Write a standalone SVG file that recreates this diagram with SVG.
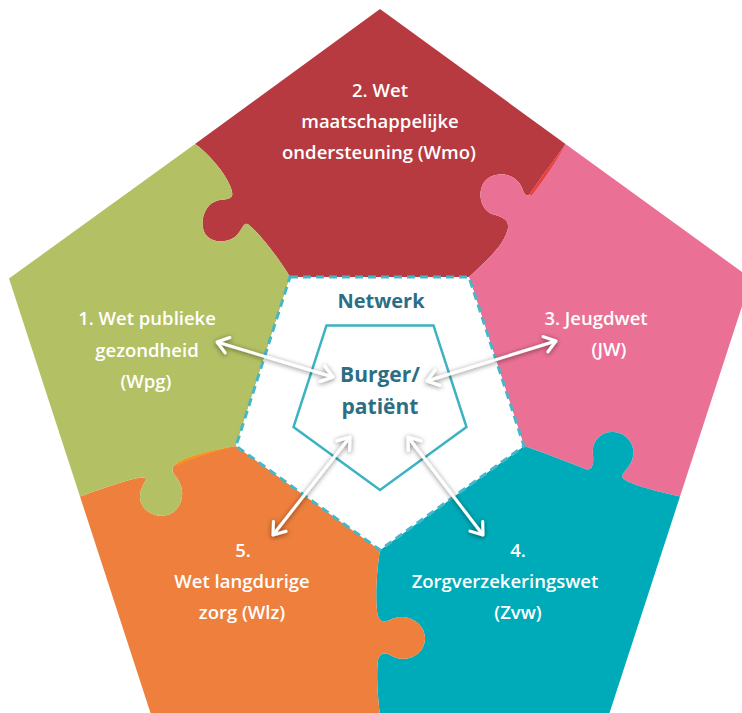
<svg xmlns="http://www.w3.org/2000/svg" width="742" height="713" viewBox="0 0 742 713">
<defs>
<style>
.lbl{font-family:"Open Sans","Noto Sans",sans-serif;font-size:18.5px;font-weight:600;fill:#ffffff;text-anchor:middle}
.ctr{font-family:"Open Sans","Noto Sans",sans-serif;font-weight:bold;fill:#2c6e84;text-anchor:middle}
.arr{stroke:#ffffff;stroke-width:3;fill:none;marker-start:url(#head);marker-end:url(#head);filter:url(#sh)}
</style>
<marker id="head" viewBox="-14 -10 16 20" markerWidth="16" markerHeight="20" refX="0" refY="0" orient="auto-start-reverse" markerUnits="userSpaceOnUse">
<path d="M-11,-8 L0,0 L-11,8" fill="none" stroke="#ffffff" stroke-width="3" stroke-linecap="round" stroke-linejoin="round"/>
</marker>
<filter id="sh" x="-30%" y="-30%" width="160%" height="160%">
<feDropShadow dx="0" dy="1" stdDeviation="2.5" flood-color="#000000" flood-opacity="0.55"/>
</filter>
</defs>
<rect width="742" height="713" fill="#ffffff"/>
<g id="pieces">
<g id="piece-red"><path fill="#b73a40" d="M290,277 C 280,260 262,236 249,225 C 244,221 243,228 238,234 C 232,242 214,245 206,235 C 199,226 203,207 214,202 C 222,198 229,201 232,196 C 235,187 215,158 195,144 L380,9 L565.5,144 C 555,160 540,178 530,194 C 527,198 524,194 522,188 C 518,178 505,170 490,177 C 476,185 478,208 492,214 C 502,217 509,219 508,228 C 505,245 485,262 469,277 Z"/></g>
<g id="piece-pink"><path fill="#eb7095" d="M469,277 C 485,262 505,245 508,228 C 509,219 502,217 492,214 C 478,208 476,185 490,177 C 505,170 518,178 522,188 C 524,194 527,198 530,194 C 540,178 555,160 565.5,144 L751,278.5 L680,496.5 C 650,490 621,482 622,476 C 624,471 630,466 632,460 C 637,447 628,433 614,432 C 602,431 591,440 593,455 C 594,465 592,471 585,469 C 570,463 545,453 524,446 Z"/></g>
<g id="piece-teal"><path fill="#00abb9" d="M524,446 C 545,453 570,463 585,469 C 592,471 594,465 593,455 C 591,440 602,431 614,432 C 628,433 637,447 632,460 C 630,466 624,471 622,476 C 621,482 650,490 680,496.5 L609,714.5 L380,714.5 C 378,700 376,675 378,660 C 381,650 388,654 394,657 C 408,663 425,654 425,638 C 425,624 408,612 392,619 C 386,622 380,623 378,616 C 375,605 376,575 380,550 Z"/></g>
<g id="piece-orange"><path fill="#ee7f3c" d="M380,550 C 376,575 375,605 378,616 C 380,623 386,622 392,619 C 408,612 425,624 425,638 C 425,654 408,663 394,657 C 388,654 381,650 378,660 C 376,675 378,700 380,714.5 L151,714.5 L80,496.5 C 120,482 146,474 146,479 C 145,483 140,488 140,497 C 140,510 156,520 170,514 C 183,508 186,490 177,478 C 172,472 170,468 177,463 C 190,455 215,450 236,446 Z"/></g>
<g id="piece-green"><path fill="#b3c164" d="M236,446 C 215,450 190,455 177,463 C 170,468 172,472 177,478 C 186,490 183,508 170,514 C 156,520 140,510 140,497 C 140,488 145,483 146,479 C 146,474 120,482 80,496.5 L9,278.5 L195,144 C 215,158 235,187 232,196 C 229,201 222,198 214,202 C 203,207 199,226 206,235 C 214,245 232,242 238,234 C 243,228 244,221 249,225 C 262,236 280,260 290,277 Z"/></g>
<path fill="#f7931e" d="M177,463 C 190,455 215,450 236,446 C 215,452 192,458 177,466 Z"/>
<path fill="#e8413a" d="M530,194 C 540,178 555,160 565.5,144 C 556,162 542,182 531,196 Z"/>
</g>
<g id="network">
<polygon points="290,277 469,277 524,446 380,550 236,446" fill="#ffffff" stroke="#45b7c7" stroke-width="3" stroke-dasharray="8 5"/>
<text class="ctr" x="381" y="308" font-size="20">Netwerk</text>
</g>
<g id="patient">
<polygon points="326.5,325.4 433.5,325.4 466.5,427.1 380,490 293.5,427.1" fill="none" stroke="#3bb3c2" stroke-width="2.5"/>
<text class="ctr" x="380" y="382" font-size="21">Burger/</text>
<text class="ctr" x="380" y="414" font-size="21">patiënt</text>
</g>
<g id="labels">
<g id="label-1"><text class="lbl" x="147" y="325">1. Wet publieke</text><text class="lbl" x="147" y="357">gezondheid</text><text class="lbl" x="146" y="388">(Wpg)</text></g>
<g id="label-2"><text class="lbl" x="380" y="97">2. Wet</text><text class="lbl" x="380" y="128">maatschappelijke</text><text class="lbl" x="379" y="159">ondersteuning (Wmo)</text></g>
<g id="label-3"><text class="lbl" x="596" y="325">3. Jeugdwet</text><text class="lbl" x="609" y="356">(JW)</text></g>
<g id="label-4"><text class="lbl" x="518" y="557">4.</text><text class="lbl" x="505" y="588">Zorgverzekeringswet</text><text class="lbl" x="518" y="619">(Zvw)</text></g>
<g id="label-5"><text class="lbl" x="243" y="557">5.</text><text class="lbl" x="242" y="588">Wet langdurige</text><text class="lbl" x="242" y="619">zorg (Wlz)</text></g>
</g>
<g id="connectors">
<line class="arr" x1="378" y1="207" x2="378" y2="345"/>
<line class="arr" x1="217" y1="342" x2="333" y2="377"/>
<line class="arr" x1="556" y1="341" x2="427" y2="381"/>
<line class="arr" x1="350" y1="437" x2="273" y2="535"/>
<line class="arr" x1="408" y1="437" x2="483" y2="535"/>
</g>
</svg>
